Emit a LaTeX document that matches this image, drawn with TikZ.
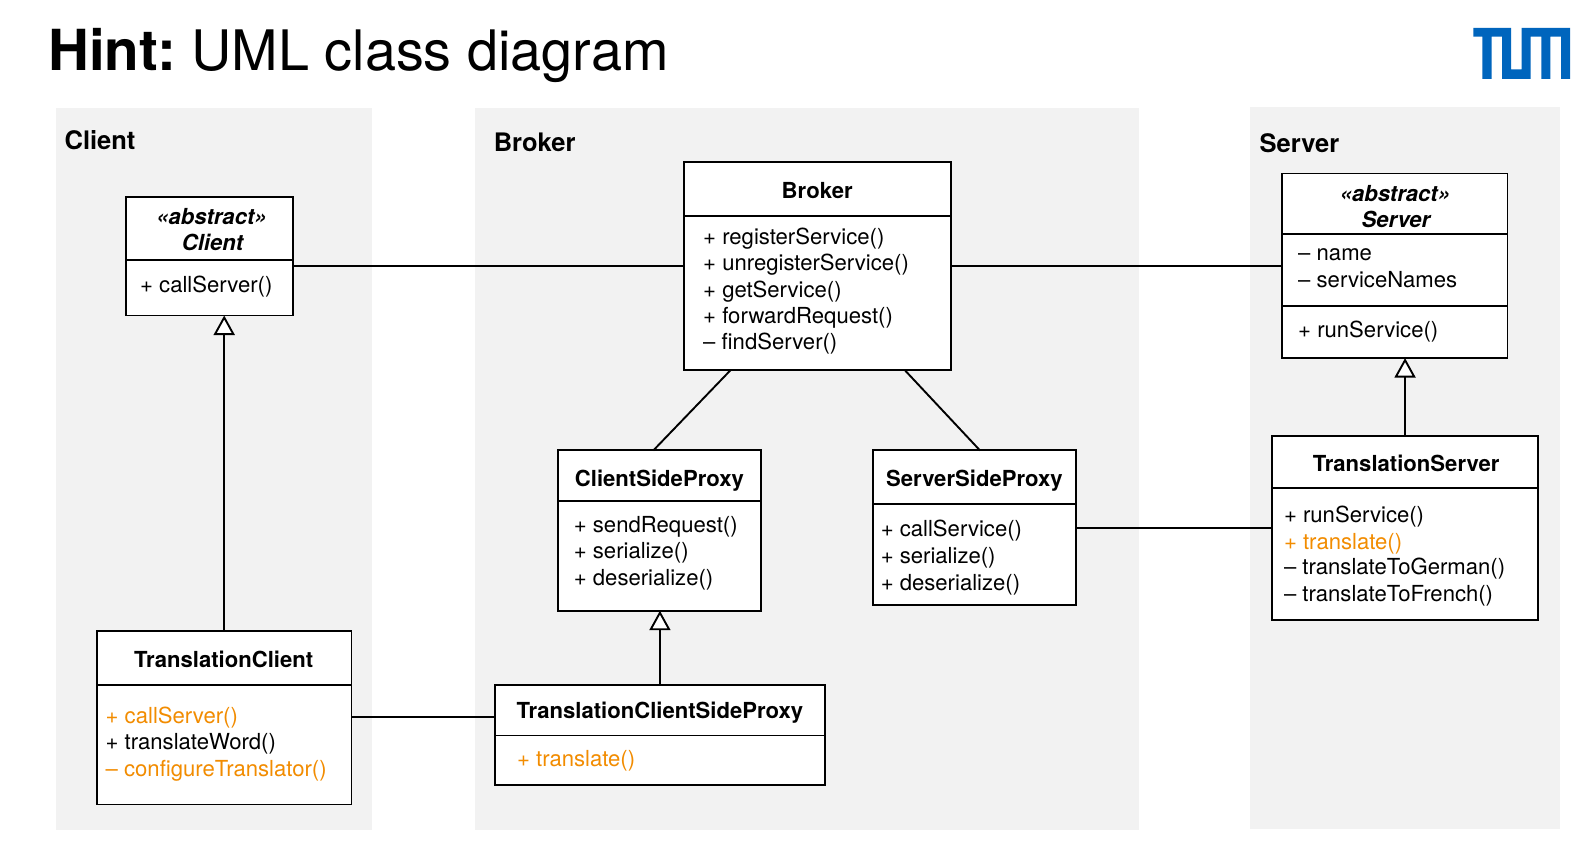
\documentclass[tikz,border=0pt]{standalone}
\usepackage{fontspec}
\setmainfont{TeX Gyre Heros}
\usetikzlibrary{arrows.meta}
\definecolor{panelgray}{HTML}{F2F2F2}
\definecolor{tumblue}{HTML}{0065BD}
\definecolor{hiorange}{HTML}{F28C00}
\tikzset{
  panel/.style={fill=panelgray,draw=none},
  cls/.style={draw=black,line width=1.9pt,fill=white,outer sep=0pt},
  rule/.style={line width=1.9pt},
  conn/.style={line width=1.9pt},
  inherit/.style={line width=1.9pt,-{Triangle[open,fill=white,length=19.5pt,width=21pt,line width=1.9pt]}},
  txt/.style={anchor=base west,inner sep=0pt,font=\fontsize{22.1}{26}\selectfont},
  hi/.style={txt,text=hiorange},
  ctr/.style={anchor=base,inner sep=0pt,font=\fontsize{22.1}{26}\selectfont},
  head/.style={ctr,font=\fontsize{22.1}{26}\selectfont\bfseries},
  abs/.style={ctr,font=\fontsize{22.1}{26}\selectfont\bfseries\itshape},
  pnl/.style={anchor=base west,inner sep=0pt,font=\fontsize{25.5}{30}\selectfont\bfseries},
}
\newcommand{\cbox}[5]{\node[cls,anchor=north west,inner sep=0pt,minimum width=#4*1.0145pt,minimum height=#5*1.0145pt] (#1) at (#2,#3) {};}
\begin{document}
\begin{tikzpicture}[x=1.0145pt,y=-1.0145pt]
\useasboundingbox (0,0) rectangle (1567.3,846.7);
\fill[white] (0,0) rectangle (1567.3,846.7);
% panels
\fill[panel] (55,106.5) rectangle (367,818);
\fill[panel] (468,106.5) rectangle (1123,818);
\fill[panel] (1232,105) rectangle (1538,817);
% title
\node[anchor=base west,inner sep=0pt,font=\fontsize{55.8}{60}\selectfont] (title) at (47.5,69.3) {{\fontsize{56.6}{60}\selectfont\bfseries Hint:}\hspace{-5pt} UML class diagram};
% logo
\begin{scope}[x=1pt,y=-1pt]
\fill[tumblue] (1473.3,28) -- (1511,28) -- (1511,69.3) -- (1521.7,69.3) -- (1521.7,28) -- (1570,28) -- (1570,79) -- (1561,79) -- (1561,36.7) -- (1550.3,36.7) -- (1550.3,79) -- (1541.3,79) -- (1541.3,36.7) -- (1530.7,36.7) -- (1530.7,79) -- (1502,79) -- (1502,36.7) -- (1491.7,36.7) -- (1491.7,79) -- (1482.3,79) -- (1482.3,36.7) -- (1473.3,36.7) -- cycle;
\end{scope}
% panel titles
\node[pnl] (lclient) at (63.5,147) {Client};
\node[pnl] (lbroker) at (486.5,149) {Broker};
\node[pnl] (lserver) at (1241.5,150) {Server};
% boxes
\cbox{client}{124}{194}{165}{117}
\cbox{tclient}{95.5}{622}{251}{171}
\cbox{broker}{674}{159.5}{263}{205.5}
\cbox{csp}{550}{444}{200.5}{158}
\cbox{ssp}{860.5}{444}{200.5}{152}
\cbox{tcsp}{488}{675}{325}{98.5}
\cbox{server}{1263.5}{171}{222.5}{182}
\cbox{tserver}{1253.5}{429.5}{262.5}{182}
% dividers
\draw[rule] (client.west |- 0,256) -- (client.east |- 0,256);
\draw[rule] (tclient.west |- 0,675) -- (tclient.east |- 0,675);
\draw[rule] (broker.west |- 0,213) -- (broker.east |- 0,213);
\draw[rule] (csp.west |- 0,493.5) -- (csp.east |- 0,493.5);
\draw[rule] (ssp.west |- 0,497) -- (ssp.east |- 0,497);
\draw[rule] (tcsp.west |- 0,725) -- (tcsp.east |- 0,725);
\draw[rule] (server.west |- 0,231) -- (server.east |- 0,231);
\draw[rule] (server.west |- 0,301.5) -- (server.east |- 0,301.5);
\draw[rule] (tserver.west |- 0,481) -- (tserver.east |- 0,481);
% connectors
\draw[conn] (client.east |- 0,262) -- (broker.west |- 0,262);
\draw[conn] (broker.east |- 0,262) -- (server.west |- 0,262);
\draw[conn] (720,0 |- broker.south) -- (644,0 |- csp.north);
\draw[conn] (892,0 |- broker.south) -- (966,0 |- ssp.north);
\draw[conn] (ssp.east |- 0,520.3) -- (tserver.west |- 0,520.3);
\draw[conn] (tclient.north east |- 0,707) -- (tcsp.west |- 0,707);
\draw[inherit] (tclient.north) -- (tclient.north |- client.south);
\draw[inherit] (tcsp.north) -- (tcsp.north |- csp.south);
\draw[inherit] (1385,0 |- tserver.north) -- (1385,0 |- server.south);
% Client
\node[abs] (c1) at (208.5,221) {«abstract»};
\node[abs] (c2) at (209.5,247) {Client};
\node[txt] (c3) at (138,288) {+ callServer()};
% TranslationClient
\node[head] (tc0) at (220.5,658) {TranslationClient};
\node[hi] (tc1) at (104,713) {+ callServer()};
\node[txt] (tc2) at (104,739) {+ translateWord()};
\node[hi] (tc3) at (104,765) {– configureTranslator()};
% Broker
\node[head] (b0) at (805.5,196) {Broker};
\node[txt] (b1) at (693,241) {+ registerService()};
\node[txt] (b2) at (693,267) {+ unregisterService()};
\node[txt] (b3) at (693,293) {+ getService()};
\node[txt] (b4) at (693,319) {+ forwardRequest()};
\node[txt] (b5) at (693,345) {– findServer()};
% ClientSideProxy
\node[head] (cp0) at (650,480) {ClientSideProxy};
\node[txt] (cp1) at (565.5,525) {+ sendRequest()};
\node[txt] (cp2) at (565.5,551) {+ serialize()};
\node[txt] (cp3) at (565.5,577) {+ deserialize()};
% ServerSideProxy
\node[head] (sp0) at (960.5,480) {ServerSideProxy};
\node[txt] (sp1) at (868,529) {+ callService()};
\node[txt] (sp2) at (868,555.5) {+ serialize()};
\node[txt] (sp3) at (868,582) {+ deserialize()};
% TranslationClientSideProxy
\node[head] (tp0) at (650.5,708) {TranslationClientSideProxy};
\node[hi] (tp1) at (509.5,756) {+ translate()};
% Server
\node[abs] (s1) at (1375,199) {«abstract»};
\node[abs] (s2) at (1376,224) {Server};
\node[txt] (s3) at (1279.5,257) {– name};
\node[txt] (s4) at (1279.5,283) {– serviceNames};
\node[txt] (s5) at (1279.5,333) {+ runService()};
% TranslationServer
\node[head] (ts0) at (1386,465) {TranslationServer};
\node[txt] (ts1) at (1265.5,515) {+ runService()};
\node[hi] (ts2) at (1265.5,541.5) {+ translate()};
\node[txt] (ts3) at (1265.5,566.5) {– translateToGerman()};
\node[txt] (ts4) at (1265.5,593) {– translateToFrench()};
\end{tikzpicture}
\end{document}
